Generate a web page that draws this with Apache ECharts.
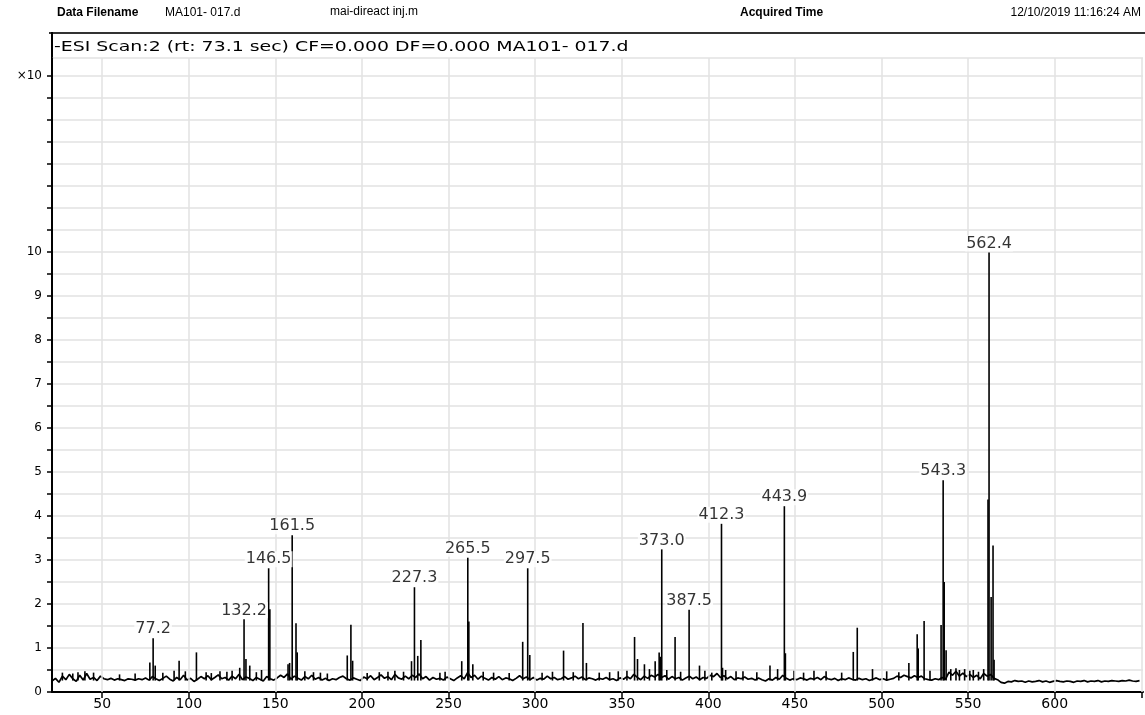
<!DOCTYPE html>
<html><head><meta charset="utf-8">
<script src="https://cdn.jsdelivr.net/npm/echarts@6/dist/echarts.min.js"></script>
<style>html,body{margin:0;padding:0;background:#fff}#c{width:1145px;height:715px}</style>
</head><body><div id="c"></div>
<script>
// ---- data ----
const xTicks = [50,100,150,200,250,300,350,400,450,500,550,600,650];
const xTickLabels = [50,100,150,200,250,300,350,400,450,500,550,600];
const yTickLabels = [0,1,2,3,4,5,6,7,8,9,10];
const yScaleLabel = '\u00d710';
const yScaleLabelAt = 14;

// baseline noise, sampled every 2 m/z from 21
const baselineStart = 21;
const baselineStep = 2;
const baselineValues = [
  0.25,0.31,0.22,0.36,0.28,0.40,0.30,0.24,0.38,0.27,0.42,0.29,0.33,0.26,0.36,0.30,0.28,0.31,0.27,0.30,0.28,0.26,0.30,0.29,0.27,
  0.30,0.28,0.32,0.27,0.35,0.30,0.26,0.31,0.36,0.29,0.25,0.33,0.28,0.38,0.27,0.31,0.24,0.29,0.35,0.30,0.37,0.28,0.33,0.39,0.30,
  0.33,0.27,0.36,0.30,0.40,0.28,0.34,0.31,0.26,0.33,0.29,0.25,0.35,0.30,0.27,0.32,0.38,0.33,0.41,0.29,0.36,0.31,0.27,0.35,0.30,
  0.38,0.29,0.33,0.27,0.31,0.26,0.30,0.28,0.33,0.36,0.30,0.27,0.32,0.29,0.26,0.34,0.30,0.37,0.28,0.33,0.39,0.31,0.35,0.28,0.40,
  0.32,0.29,0.36,0.30,0.38,0.33,0.41,0.30,0.35,0.27,0.33,0.29,0.31,0.27,0.34,0.30,0.26,0.32,0.37,0.30,0.44,0.33,0.38,0.29,0.36,
  0.31,0.27,0.33,0.29,0.35,0.28,0.32,0.30,0.26,0.31,0.37,0.30,0.34,0.28,0.33,0.27,0.31,0.29,0.36,0.30,0.33,0.28,0.30,0.35,0.29,
  0.32,0.36,0.30,0.34,0.28,0.32,0.30,0.27,0.31,0.29,0.33,0.28,0.30,0.26,0.32,0.29,0.35,0.30,0.40,0.33,0.28,0.36,0.31,0.38,0.34,
  0.40,0.33,0.37,0.29,0.35,0.30,0.33,0.27,0.32,0.36,0.30,0.34,0.28,0.33,0.31,0.38,0.35,0.42,0.33,0.37,0.30,0.35,0.28,0.32,0.30,
  0.34,0.29,0.31,0.27,0.32,0.28,0.25,0.30,0.27,0.33,0.29,0.38,0.31,0.27,0.30,0.28,0.32,0.30,0.27,0.31,0.29,0.33,0.28,0.35,0.30,
  0.28,0.31,0.26,0.30,0.28,0.32,0.29,0.27,0.31,0.28,0.30,0.26,0.29,0.32,0.28,0.30,0.27,0.29,0.31,0.36,0.33,0.38,0.35,0.32,0.37,
  0.33,0.36,0.30,0.28,0.27,0.30,0.28,0.33,0.29,0.45,0.38,0.47,0.36,0.43,0.35,0.40,0.33,0.38,0.30,0.42,0.36,0.40,0.31,0.28,0.22,
  0.20,0.24,0.23,0.26,0.24,0.25,0.22,0.25,0.23,0.24,0.26,0.23,0.25,0.22,0.24,0.26,0.24,0.23,0.25,0.24,0.22,0.25,0.24,0.26,0.23,
  0.25,0.24,0.26,0.23,0.25,0.24,0.26,0.25,0.24,0.26,0.25,0.27,0.25,0.24,0.26
];

// peaks rise from the noise floor
const peakFloor = 0.26;
const peakMz = [77.5,79.4,80.6,91.5,94.4,104.4,129.4,131.9,133.0,135.2,146.1,146.8,157.3,158.2,159.7,161.9,162.6,
  191.5,193.6,194.6,228.6,230.3,232.2,234.0,257.6,261.1,261.7,264.0,292.8,295.7,296.9,316.4,327.6,329.6,
  357.4,359.1,363.1,369.3,371.6,372.2,373.1,380.8,388.9,394.9,407.6,408.2,435.6,443.9,444.5,449.5,
  483.7,486.0,494.8,515.8,520.6,521.2,524.6,534.4,535.6,536.2,537.3,561.5,562.1,563.3,564.4,565.0];
const peakIntensity = [0.67,1.22,0.60,0.48,0.71,0.90,0.55,1.65,0.75,0.60,2.81,1.88,0.63,0.66,3.56,1.56,0.90,
  0.83,1.53,0.71,0.70,2.38,0.82,1.18,0.70,3.05,1.60,0.63,1.14,2.81,0.84,0.94,1.57,0.66,
  1.25,0.75,0.63,0.70,0.90,0.80,3.24,1.25,1.87,0.60,3.82,0.55,0.60,4.22,0.88,0.48,
  0.91,1.46,0.52,0.66,1.31,0.99,1.61,1.52,4.81,2.50,0.95,4.37,9.98,2.16,3.33,0.73];

// small noise spikes above the baseline
const spikeMz = [27,33,36,40,45,60,69,85,98,110,113,118,122,125,139,142,167,172,176,180,203,210,215,219,224,
  245,248,270,276,285,304,310,322,337,343,348,353,366,376,384,398,402,410,416,420,428,440,455,461,468,477,
  503,510,528,540,543,545,548,551,553,556,559];
const spikeIntensity = [0.44,0.42,0.45,0.47,0.44,0.40,0.42,0.44,0.47,0.45,0.43,0.47,0.46,0.48,0.45,0.50,0.47,0.45,0.44,0.42,0.43,0.45,0.46,0.48,0.46,
  0.44,0.46,0.46,0.44,0.43,0.44,0.46,0.45,0.44,0.45,0.47,0.48,0.52,0.50,0.46,0.48,0.44,0.50,0.47,0.47,0.45,0.52,0.44,0.48,0.47,0.44,
  0.47,0.45,0.48,0.52,0.54,0.50,0.52,0.48,0.50,0.46,0.52];

// annotated peaks
const labelMz = [79.4,131.9,146.1,159.7,230.3,261.1,295.7,373.1,388.9,407.6,443.9,535.6,562.1];
const labelIntensity = [1.22,1.65,2.81,3.56,2.38,3.05,2.81,3.24,1.87,3.82,4.22,4.81,9.98];
const labelText = ['77.2','132.2','146.5','161.5','227.3','265.5','297.5','373.0','387.5','412.3','443.9','543.3','562.4'];

const headerTexts = ['Data Filename','MA101- 017.d','mai-direact inj.m','Acquired Time','12/10/2019 11:16:24 AM'];
const plotTitle = '-ESI Scan:2 (rt: 73.1 sec) CF=0.000 DF=0.000 MA101- 017.d';

// ---- build ----
const baselineData = baselineValues.map((v,i)=>[baselineStart + i*baselineStep, v]);
const peakData = peakMz.map((m,i)=>[m, peakIntensity[i]])
  .concat(spikeMz.map((m,i)=>[m, spikeIntensity[i]]));
const labelData = labelMz.map((m,i)=>({value:[m, labelIntensity[i]], name: labelText[i]}));

const chart = echarts.init(document.getElementById('c'), null, {renderer:'canvas'});
const gridColor = '#e2e2e2';
const option = {
  backgroundColor:'#fff',
  animation:false,
  grid:{left:52, right:2, top:58, bottom:23, containLabel:false},
  xAxis:{
    type:'value', min:21, max:651,
    axisLine:{show:true, lineStyle:{color:'#000', width:2}},
    axisTick:{show:true, customValues:xTicks, length:6, lineStyle:{color:'#000', width:1.5}},
    axisLabel:{customValues:xTickLabels, color:'#000', fontFamily:'DejaVu Sans', fontSize:14, margin:5},
    splitLine:{show:false}
  },
  yAxis:{
    type:'value', min:0, max:14.4, interval:0.5,
    axisLine:{show:true, lineStyle:{color:'#000', width:2}},
    axisTick:{show:true, length:5, lineStyle:{color:'#000', width:1.5}},
    axisLabel:{color:'#000', fontFamily:'DejaVu Sans', fontSize:12, margin:10, showMaxLabel:false,
      formatter:function(v){
        if (yTickLabels.indexOf(v) >= 0) return String(v);
        if (v === yScaleLabelAt) return yScaleLabel;
        return '';
      }},
    splitLine:{show:true, lineStyle:{color:gridColor, width:1.5}}
  },
  graphic:[
    {type:'text', left:57, top:7, style:{text:headerTexts[0], font:'bold 12px "Liberation Sans"', fill:'#000'}},
    {type:'text', left:165, top:7, style:{text:headerTexts[1], font:'12px "Liberation Sans"', fill:'#000'}},
    {type:'text', left:330, top:6, style:{text:headerTexts[2], font:'12px "Liberation Sans"', fill:'#000'}},
    {type:'text', left:740, top:7, style:{text:headerTexts[3], font:'bold 12px "Liberation Sans"', fill:'#000'}},
    {type:'text', right:4, top:7, style:{text:headerTexts[4], font:'12px "Liberation Sans"', fill:'#000'}},
    {type:'line', shape:{x1:49, y1:33, x2:1145, y2:33}, style:{stroke:'#333', lineWidth:2}},
    {type:'line', shape:{x1:52, y1:32, x2:52, y2:59}, style:{stroke:'#000', lineWidth:2}},
    {type:'text', x:54, y:40, scaleX:1.35, scaleY:1, style:{text:plotTitle, font:'14px "DejaVu Sans"', fill:'#000'}}
  ],
  series:[
    {
      type:'line', data:[], silent:true, z:0,
      markLine:{silent:true, symbol:['none','none'], label:{show:false},
        lineStyle:{color:gridColor, type:'solid', width:1.5},
        data: xTicks.map(v=>({xAxis:v}))}
    },
    {
      type:'custom', silent:true, z:3,
      data: peakData,
      renderItem:function(params, api){
        const top = api.coord([api.value(0), api.value(1)]);
        const bot = api.coord([api.value(0), peakFloor]);
        return {type:'line', shape:{x1:top[0], y1:top[1], x2:bot[0], y2:bot[1]},
          style:{stroke:'#000', lineWidth:1.6}};
      }
    },
    {
      type:'line', data:baselineData, symbol:'none', silent:true, z:4,
      lineStyle:{color:'#000', width:1.7}
    },
    {
      type:'scatter', data:labelData, symbolSize:0, silent:true, z:5,
      label:{show:true, position:'top', distance:1, formatter:p=>p.name,
        color:'#000', fontFamily:'DejaVu Sans', fontSize:16, backgroundColor:'#fff', padding:[0,1,0,1]}
    }
  ]
};
chart.setOption(option);
</script>
</body></html>
